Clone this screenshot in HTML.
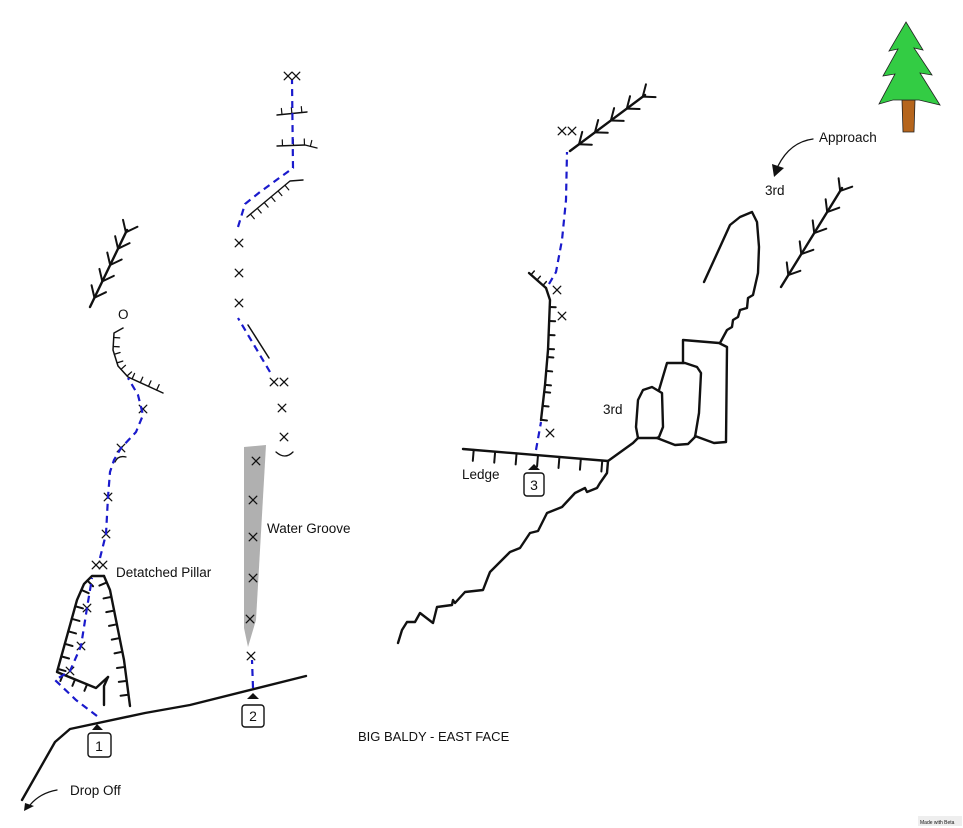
<!DOCTYPE html>
<html><head><meta charset="utf-8"><style>
html,body{margin:0;padding:0;background:#fff}
svg{display:block}
text{font-family:"Liberation Sans","DejaVu Sans",sans-serif;fill:#111}
</style></head><body>
<svg id="s" width="963" height="828" viewBox="0 0 963 828" xmlns="http://www.w3.org/2000/svg">
<g fill="none" stroke="#111" stroke-width="2.4" stroke-linejoin="round" stroke-linecap="round">
<path d="M22,800 L55,742 L70,729 L145,713 L190,705 L306,676"/>
<path d="M104,576 L92,576 L84,584 L77,600 L57,672 L96,688 L108,677"/>
<path d="M104,576 L110,590 L124,660 L130,706"/>
<path d="M108,677 L104,686 L104,705"/>
<path d="M123,328 L114,333 L113,350 L118,366 L128,377 L163,393" stroke-width="1.5"/>
<path d="M115,462 Q118,455 126,457" stroke-width="1.3"/>
<path d="M248,325 L269,358" stroke-width="1.5"/>
<path d="M247,217 L290,181 L303,180" stroke-width="1.4"/>
<path d="M277,115 L307,112" stroke-width="1.4"/>
<path d="M277,146 L305,145 L317,148" stroke-width="1.4"/>
<path d="M276,452 Q285,460 293,452" stroke-width="1.3"/>
<path d="M463,449 L608,461"/>
<path d="M546,288 L529,273"/>
<path d="M546,288 L550,300 L548,350 L545,385 L541,420"/>
<path d="M608,461 L607,473 L600,483 L597,488 L587,492 L585,488 L575,493 L562,507 L547,513 L538,531 L530,533 L520,548 L510,552 L490,572 L488,577 L483,590 L465,592 L455,603 L453,600 L452,605 L437,607 L433,623 L420,613 L415,622 L407,622 L402,630 L398,643"/>
<path d="M608,461 L633,443 L638,438"/>
<path d="M704,282 L720,247 L730,225 L740,217 L752,212 L757,222 L759,247 L758,273 L753,295 L748,298 L747,308 L740,310 L738,317 L733,320 L732,327 L727,330 L720,343"/>
<path d="M683,363 L683,340 L719,343 L727,347 L726,442 L714,443 L695,436"/>
<path d="M659,390 L667,363 L685,363 L697,367 L701,373 L699,413 L695,437 L688,444 L675,445 L657,438"/>
<path d="M638,438 L636,427 L638,400 L643,390 L652,387 L662,393 L663,427 L659,437 L657,438 Z"/>
<path d="M813,139 Q790,142 778,166" stroke-width="1.3"/>
<path d="M57,790 Q40,793 30,805" stroke-width="1.3"/>
</g>
<polygon points="772,164 784,168 774,177" fill="#111"/>
<polygon points="25,803 34,806 24,811" fill="#111"/>
<polygon points="244,447 266,445 256,620 248,647 244,628" fill="#b0b0b0"/>
<g id="gen" fill="none" stroke="#111" stroke-width="1.4" stroke-linecap="round"></g>
<g fill="none" stroke="#1a1acc" stroke-width="2.2" stroke-dasharray="7,5">
<path d="M97,716 L76,700 L55,680 L70,671 L81,646 L87,608 L92,578"/>
<path d="M100,558 L106,534 L108,497 L110,472 L114,460 L121,448 L136,432 L143,415 L138,395 L128,378"/>
<path d="M253,688 L252,660"/>
<path d="M270,372 L238,318"/>
<path d="M238,227 L245,204 L260,192 L293,168 L292,80"/>
<path d="M536,450 L541,422"/>
<path d="M549,284 L556,272 L562,240 L566,200 L567,152"/>
</g>
<g fill="#fff" stroke="#111" stroke-width="1.4">
<rect x="88" y="733" width="23" height="24" rx="3"/>
<rect x="242" y="705" width="22" height="22" rx="3"/>
<rect x="524" y="473" width="20" height="23" rx="3"/>
</g>
<polygon points="92,730 97,724 103,730" fill="#111"/>
<polygon points="247,699 253,693 259,699" fill="#111"/>
<polygon points="528,470 534,464 540,470" fill="#111"/>
<g font-size="14" text-anchor="middle">
<text x="99" y="751">1</text><text x="253" y="721">2</text><text x="534" y="490">3</text>
</g>
<g font-size="13.5">
<text x="118" y="319">O</text>
<text x="116" y="577">Detatched Pillar</text>
<text x="267" y="533">Water Groove</text>
<text x="70" y="795">Drop Off</text>
<text x="462" y="479">Ledge</text>
<text x="603" y="414">3rd</text>
<text x="765" y="195">3rd</text>
<text x="819" y="142">Approach</text>
<text x="358" y="741" font-size="13">BIG BALDY - EAST FACE</text>
</g>
<polygon points="902,100 915,100 914,132 903,132" fill="#b5651d" stroke="#222" stroke-width="0.8"/>
<polygon points="906,22 923,50 914,48 932,75 920,73 940,105 919,100 893,100 879,104 895,74 883,76 898,49 889,51" fill="#33cc44" stroke="#222" stroke-width="0.8"/>
<rect x="918" y="816" width="44" height="10" fill="#eee"/>
<text x="920" y="824" font-size="5" fill="#555">Made with Beta</text>
</svg>
<script>
var g=document.getElementById('gen');var ns='http://www.w3.org/2000/svg';
function L(a,b,c,d,w){var l=document.createElementNS(ns,'line');l.setAttribute('x1',a);l.setAttribute('y1',b);l.setAttribute('x2',c);l.setAttribute('y2',d);if(w)l.setAttribute('stroke-width',w);g.appendChild(l);}
function X(x,y){var r=3.8;L(x-r,y-r,x+r,y+r,1.3);L(x-r,y+r,x+r,y-r,1.3);}
function chev(x1,y1,x2,y2,n){L(x1,y1,x2,y2,2.4);var dx=x2-x1,dy=y2-y1,len=Math.hypot(dx,dy),ux=dx/len,uy=dy/len,px=-uy,py=ux;
for(var i=0;i<n;i++){var t=0.12+i*(0.85/(n-1||1));var x=x1+dx*t,y=y1+dy*t;
L(x,y,x+ux*10+px*8,y+uy*10+py*8,2);L(x,y,x+ux*10-px*8,y+uy*10-py*8,2);}}
function ticks(pts,sp,len,side,w){for(var k=0;k<pts.length-1;k++){var a=pts[k],b=pts[k+1],dx=b[0]-a[0],dy=b[1]-a[1],l=Math.hypot(dx,dy),ux=dx/l,uy=dy/l,px=-uy*side,py=ux*side;
for(var s=sp/2;s<l;s+=sp){var x=a[0]+ux*s,y=a[1]+uy*s;L(x,y,x+px*len,y+py*len,w);}}}
chev(90,307,127,230,5);
chev(570,151,645,95,5);
chev(781,287,842,188,5);
ticks([[92,576],[84,584],[77,600],[57,672]],13,8,-1,2);
ticks([[104,576],[110,590],[124,660],[130,706]],14,8,1,2);
ticks([[57,672],[96,688]],13,7,1,2);
ticks([[114,333],[113,350],[118,366],[128,377]],9,6,-1,1.3);
ticks([[128,377],[163,393]],9,6,-1,1.3);
ticks([[463,449],[608,461]],21.5,11,1,2);
ticks([[550,300],[548,350],[545,385],[541,420]],14,6,-1,2);
ticks([[546,288],[529,273]],8,5,1,1.5);
ticks([[247,217],[290,181]],9,6,1,1.2);
ticks([[277,115],[307,112]],10,6,-1,1.2);
ticks([[277,146],[305,145],[317,148]],11,6,-1,1.2);
[[96,565],[103,565],[87,608],[81,646],[70,671],[106,534],[108,497],[121,448],[143,409],
[251,656],[256,461],[253,500],[253,537],[253,578],[250,619],[284,437],[282,408],[274,382],[284,382],
[239,303],[239,273],[239,243],[288,76],[296,76],[562,131],[572,131],[557,290],[562,316],[550,433]].forEach(function(p){X(p[0],p[1]);});
</script>
</body></html>
